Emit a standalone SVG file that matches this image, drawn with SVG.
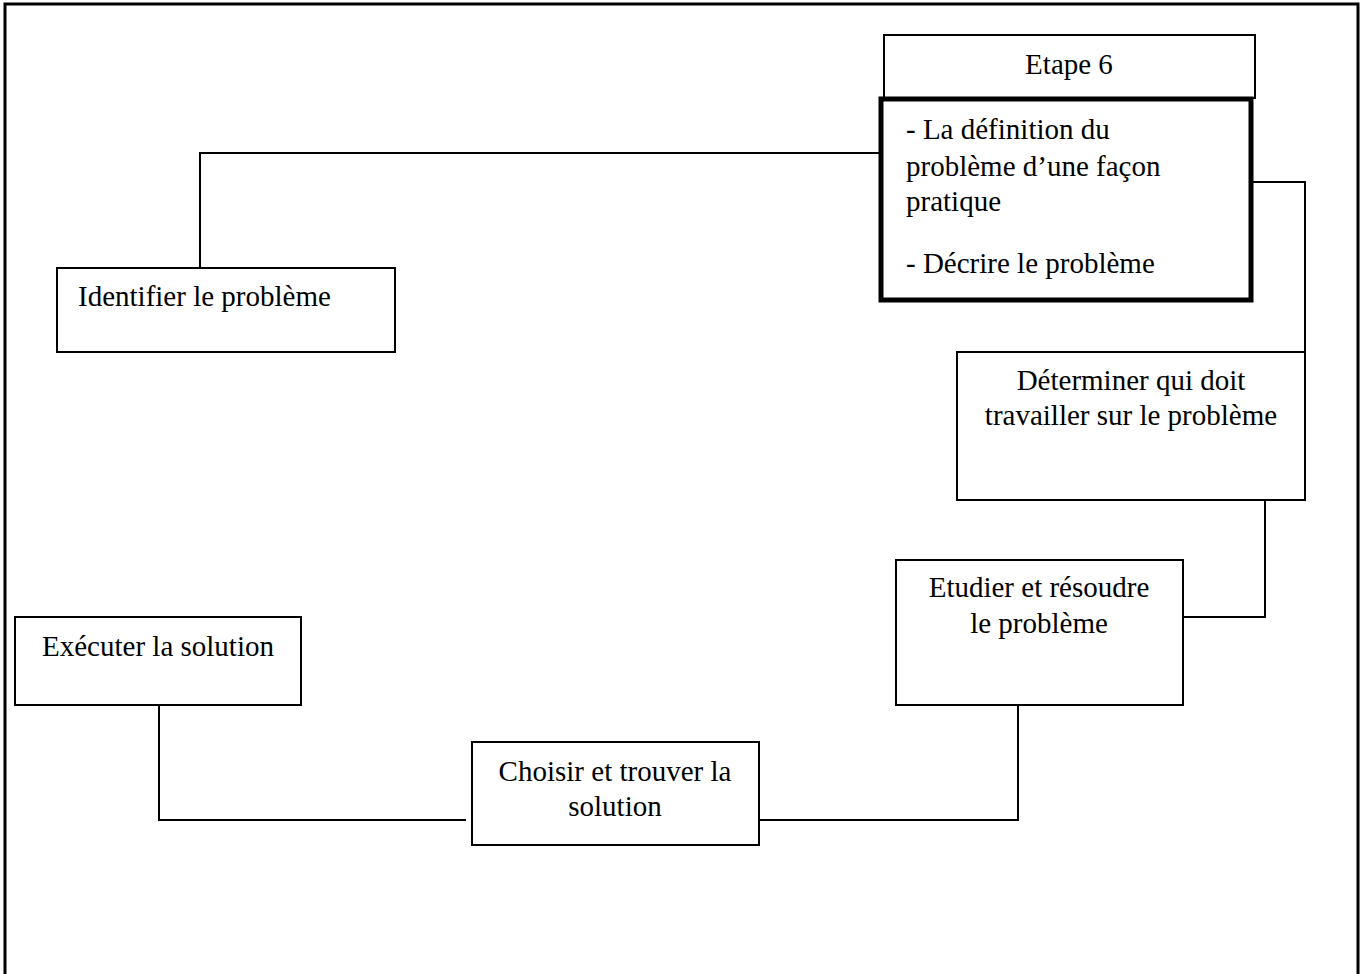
<svg xmlns="http://www.w3.org/2000/svg" width="1364" height="974" viewBox="0 0 1364 974">
<style>
.box{fill:#fff;stroke:#000;stroke-width:2}
.thick{fill:#fff;stroke:#000;stroke-width:5}
.t{font-family:"Liberation Serif","Times New Roman",serif;font-size:29px;fill:#000}
.c{text-anchor:middle}
.ln{fill:none;stroke:#000;stroke-width:2}
</style>
<rect x="0" y="0" width="1364" height="974" fill="#fff"/>
<path d="M5,974 V4 H1358 V974" fill="none" stroke="#000" stroke-width="3"/>
<g id="connectors">
<path class="ln" d="M879,153 H200 V268"/>
<path class="ln" d="M1245,182 H1305 V385"/>
<path class="ln" d="M1265,500 V617 H1183"/>
<path class="ln" d="M1018,705 V820 H759"/>
<path class="ln" d="M466,820 H159 V705"/>
</g>
<g id="etape6">
<rect class="box" x="884" y="35" width="371" height="63"/>
<text class="t c" x="1069" y="74">Etape 6</text>
</g>
<g id="definition">
<rect class="thick" x="881" y="99" width="370" height="201"/>
<text class="t" x="906" y="139">- La définition du</text>
<text class="t" x="906" y="176">problème d’une façon</text>
<text class="t" x="906" y="211">pratique</text>
<text class="t" x="906" y="273">- Décrire le problème</text>
</g>
<g id="identifier">
<rect class="box" x="57" y="268" width="338" height="84"/>
<text class="t" x="78" y="306">Identifier le problème</text>
</g>
<g id="determiner">
<rect class="box" x="957" y="352" width="348" height="148"/>
<text class="t c" x="1131" y="390">Déterminer qui doit</text>
<text class="t c" x="1131" y="425">travailler sur le problème</text>
</g>
<g id="etudier">
<rect class="box" x="896" y="560" width="287" height="145"/>
<text class="t c" x="1039" y="597">Etudier et résoudre</text>
<text class="t c" x="1039" y="633">le problème</text>
</g>
<g id="executer">
<rect class="box" x="15" y="617" width="286" height="88"/>
<text class="t c" x="158" y="656">Exécuter la solution</text>
</g>
<g id="choisir">
<rect class="box" x="472" y="742" width="287" height="103"/>
<text class="t c" x="615" y="781">Choisir et trouver la</text>
<text class="t c" x="615" y="816">solution</text>
</g>
</svg>
